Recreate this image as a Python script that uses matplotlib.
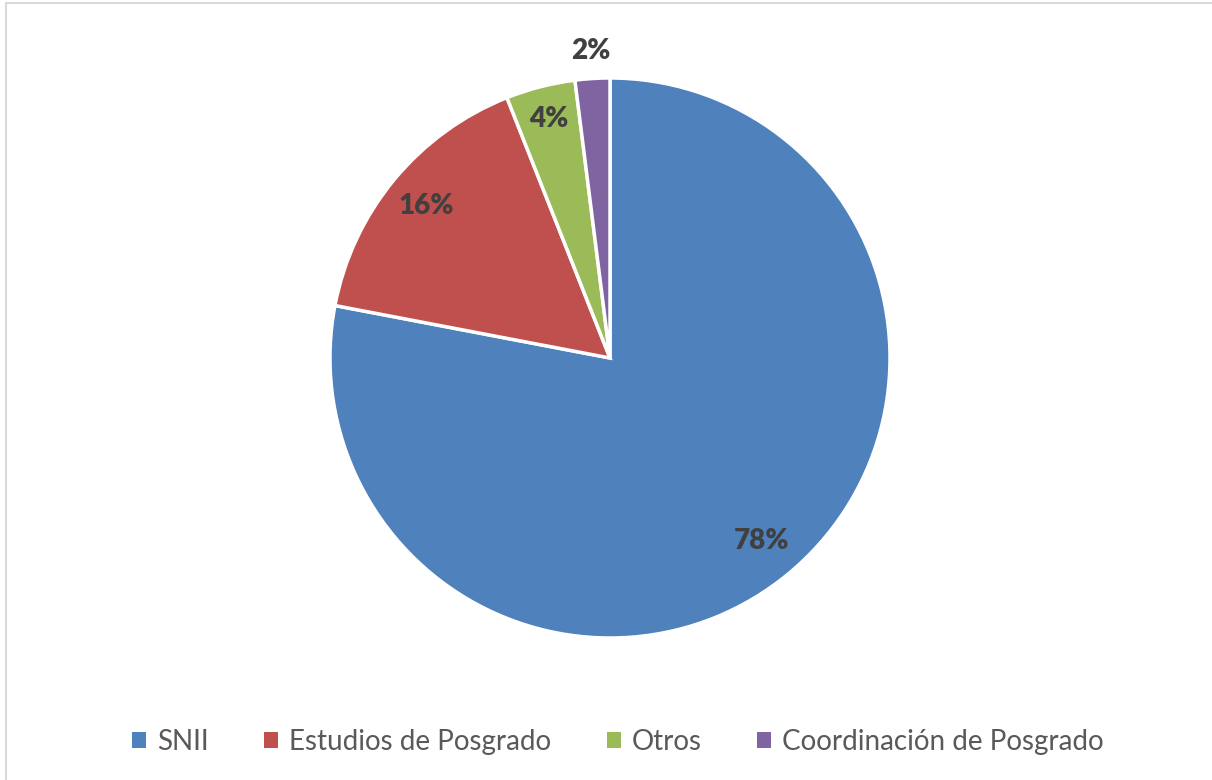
import matplotlib
matplotlib.use("Agg")
import matplotlib.pyplot as plt
from matplotlib.patches import Rectangle
import numpy as np

categories = ["SNII", "Estudios de Posgrado", "Otros", "Coordinación de Posgrado"]
values = [78, 16, 4, 2]
colors = ["#4F81BD", "#C0504D", "#9BBB59", "#8064A2"]
label_dist = [0.85, 0.85, 0.88, 1.10]

plt.rcParams['font.family'] = ['Lato', 'DejaVu Sans']

fig = plt.figure(figsize=(12.12, 7.8), dpi=100)
fig.patch.set_facecolor("white")

# light outer frame (only left/top visible in the original crop)
fig.add_artist(Rectangle((5.5 / 1212, -0.1), 1.2, 1 - 3.5 / 780 + 0.1,
                         transform=fig.transFigure, fill=False,
                         edgecolor="#D9D9D9", linewidth=1.5))

cx, cy, r = 610 / 1212, 1 - 358 / 780, 280
ax = fig.add_axes([cx - r / 1212, cy - r / 780, 2 * r / 1212, 2 * r / 780])
wedges, _ = ax.pie(values, colors=colors, startangle=90, counterclock=False,
                   radius=1, wedgeprops=dict(edgecolor="white", linewidth=2.5))
ax.set_xlim(-1, 1)
ax.set_ylim(-1, 1)
ax.set_aspect("equal")
ax.axis("off")

for w, v, d in zip(wedges, values, label_dist):
    mid = np.deg2rad((w.theta1 + w.theta2) / 2)
    ax.text(d * np.cos(mid), d * np.sin(mid), f"{v}%", ha="center", va="center",
            fontsize=20, fontweight="heavy", color="#404040")

handles = [Rectangle((0, 0), 1, 1, facecolor=c) for c in colors]
leg = fig.legend(handles, categories, loc="center", bbox_to_anchor=(618 / 1212, 1 - 742 / 780),
                 ncol=4, frameon=False, fontsize=20, handlelength=0.5, handleheight=0.5,
                 handletextpad=0.4, columnspacing=2.0, labelcolor="#595959")

fig.savefig("out.png", dpi=100, facecolor="white")
